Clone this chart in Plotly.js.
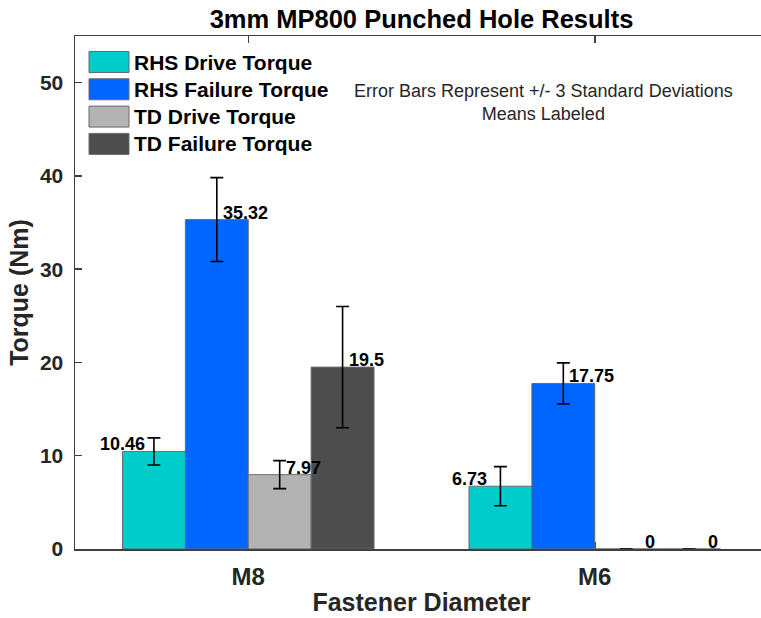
<!DOCTYPE html>
<html>
<head>
<meta charset="utf-8">
<script src="https://cdn.plot.ly/plotly-3.0.1.min.js"></script>
<style>html,body{margin:0;padding:0;overflow:hidden;background:#fff;}</style>
</head>
<body>
<div id="chart"></div>
<script>
// ---- data ----
var categories = ["M8", "M6"];
var seriesNames = ["RHS Drive Torque", "RHS Failure Torque", "TD Drive Torque", "TD Failure Torque"];
var rhsDrive = [10.46, 6.73];
var rhsFailure = [35.32, 17.75];
var tdDrive = [7.97, 0];
var tdFailure = [19.5, 0];
var rhsDriveErr = [1.45, 2.1];
var rhsFailureErr = [4.5, 2.2];
var tdDriveErr = [1.5, 0];
var tdFailureErr = [6.5, 0];
var yTicks = [0, 10, 20, 30, 40, 50];

// ---- styles ----
var colors = ["#00CCCC", "#0066FF", "#B3B3B3", "#4D4D4D"];
var values = [rhsDrive, rhsFailure, tdDrive, tdFailure];
var errs = [rhsDriveErr, rhsFailureErr, tdDriveErr, tdFailureErr];
var FONT = "Liberation Sans, Arial, sans-serif";
var TXT = "#262626";
var bargap = 0.274;
var W = 770, H = 618, ML = 75, MR = 2, MT = 36, MB = 69;
var plotW = W - ML - MR, plotH = H - MT - MB;

var traces = values.map(function (v, i) {
  return {
    type: "bar",
    name: seriesNames[i],
    x: categories,
    y: v,
    marker: { color: colors[i], line: { color: "#6b6b6b", width: 1 } },
    error_y: { type: "data", array: errs[i], visible: true, color: "#000", thickness: 1.6, width: 6.5 },
    showlegend: false,
    hoverinfo: "skip"
  };
});

// value labels
var annotations = [];
var shapes = [];
var bw = (1 - bargap) / values.length;
values.forEach(function (v, i) {
  v.forEach(function (val, c) {
    var off = (i - (values.length - 1) / 2) * bw;
    var right = (i === 0);
    var shift = right ? (c === 0 ? -7 : -11) : (val === 0 ? 17 : 4);
    annotations.push({
      xref: "x", yref: "y", x: c + off, y: val,
      text: String(val), showarrow: false,
      xanchor: right ? "right" : "left", yanchor: "middle",
      xshift: shift, yshift: 7,
      font: { family: FONT, size: 18, color: "#000", weight: "bold" }
    });
  });
});

// note text
annotations.push({
  xref: "paper", yref: "paper", x: (543 - ML) / plotW, y: (549 - 102) / plotH,
  text: "Error Bars Represent +/- 3 Standard Deviations<br>Means Labeled",
  showarrow: false, xanchor: "center", yanchor: "middle", align: "center",
  font: { family: FONT, size: 18, color: TXT }
});

// manual legend
seriesNames.forEach(function (n, i) {
  var cy = 62 + i * 27.3;
  shapes.push({
    type: "rect", xref: "paper", yref: "paper",
    x0: (89 - ML) / plotW, x1: (129 - ML) / plotW,
    y0: (549 - cy - 10.5) / plotH, y1: (549 - cy + 10.5) / plotH,
    fillcolor: colors[i], line: { color: "#6b6b6b", width: 1 }
  });
  annotations.push({
    xref: "paper", yref: "paper", x: (132 - ML) / plotW, y: (549 - cy) / plotH,
    text: n, showarrow: false, xanchor: "left", yanchor: "middle",
    font: { family: FONT, size: 21, color: "#000", weight: "bold" }
  });
});

var layout = {
  width: W, height: H,
  margin: { l: ML, r: MR, t: MT, b: MB, pad: 0 },
  paper_bgcolor: "#fff", plot_bgcolor: "#fff",
  barmode: "group", bargap: bargap, bargroupgap: 0,
  title: {
    text: "3mm MP800 Punched Hole Results",
    font: { family: FONT, size: 25.5, color: "#000", weight: "bold" },
    x: 0.5, xref: "paper", y: 1 - 19 / H, yref: "container", yanchor: "middle"
  },
  xaxis: {
    type: "category", range: [-0.5, 1.5],
    showline: true, linecolor: "#404040", linewidth: 1.5, mirror: "ticks",
    ticks: "inside", ticklen: 7, tickcolor: "#404040", tickwidth: 1.5,
    tickfont: { family: FONT, size: 24, color: TXT, weight: "bold" },
    ticklabelstandoff: 6,
    showgrid: false, zeroline: false, layer: "below traces",
    title: { text: "Fastener Diameter", font: { family: FONT, size: 25, color: TXT, weight: "bold" }, standoff: 4 }
  },
  yaxis: {
    range: [0, 55], tickvals: yTicks, ticktext: yTicks.map(String),
    showline: true, linecolor: "#404040", linewidth: 1.5, mirror: "ticks",
    ticks: "inside", ticklen: 7, tickcolor: "#404040", tickwidth: 1.5,
    tickfont: { family: FONT, size: 21, color: TXT, weight: "bold" },
    ticklabelstandoff: 6,
    showgrid: false, zeroline: false, layer: "below traces",
    title: { text: "Torque (Nm)", font: { family: FONT, size: 25, color: TXT, weight: "bold" }, standoff: 4 }
  },
  annotations: annotations,
  shapes: shapes
};

Plotly.newPlot("chart", traces, layout, { displayModeBar: false, staticPlot: true });
</script>
</body>
</html>
